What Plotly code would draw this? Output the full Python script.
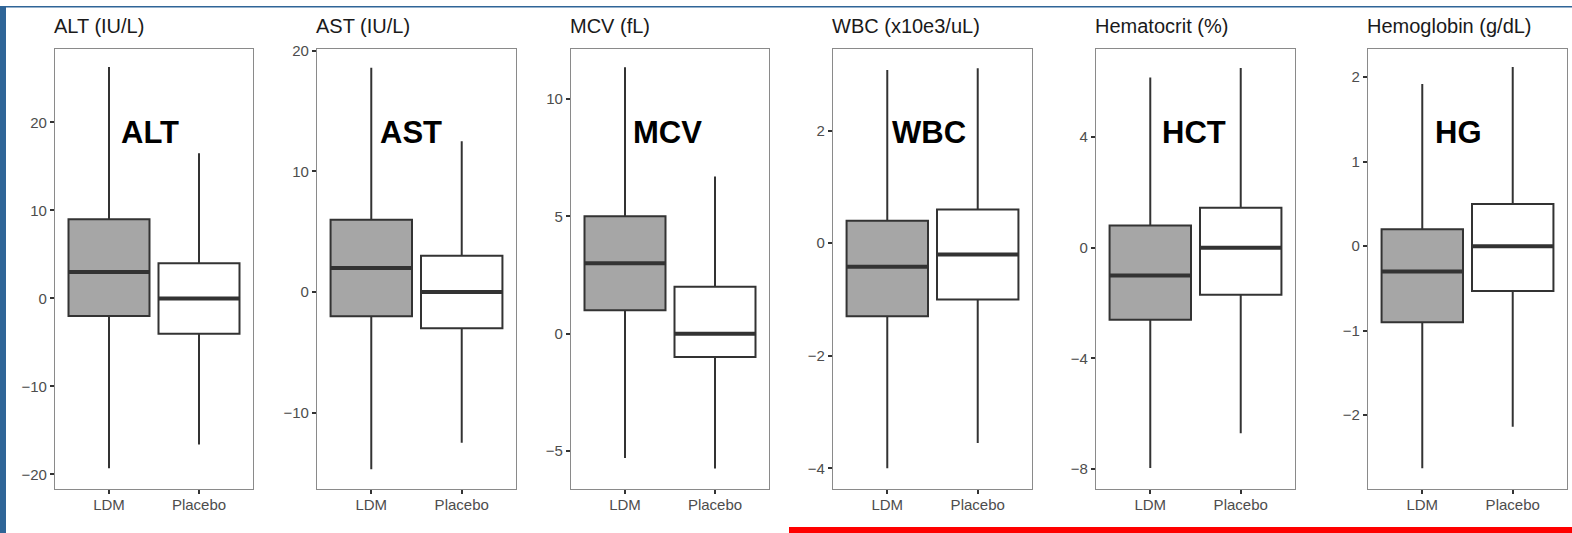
import plotly.graph_objects as go

groups = ["LDM", "Placebo"]
panels = ["ALT (IU/L)", "AST (IU/L)", "MCV (fL)", "WBC (x10e3/uL)", "Hematocrit (%)", "Hemoglobin (g/dL)"]
labels = ["ALT", "AST", "MCV", "WBC", "HCT", "HG"]

# per panel: [LDM, Placebo]
q1 = [[-2.0, -4.0], [-2.0, -3.0], [1.0, -1.0], [-1.3, -1.0], [-2.6, -1.7], [-0.9, -0.53]]
med = [[3.0, 0.0], [2.0, 0.0], [3.0, 0.0], [-0.42, -0.2], [-1.0, 0.0], [-0.3, 0.0]]
q3 = [[9.0, 4.0], [6.0, 3.0], [5.0, 2.0], [0.4, 0.6], [0.8, 1.45], [0.2, 0.5]]
lo = [[-19.3, -16.6], [-14.7, -12.5], [-5.3, -5.75], [-4.0, -3.55], [-7.96, -6.7], [-2.63, -2.14]]
hi = [[26.3, 16.5], [18.6, 12.5], [11.35, 6.7], [3.08, 3.11], [6.15, 6.5], [1.92, 2.12]]

yranges = [[-21.6, 28.4], [-16.3, 20.2], [-6.6, 12.15], [-4.36, 3.46], [-8.7, 7.2], [-2.87, 2.34]]
yticks = [[-20, -10, 0, 10, 20], [-10, 0, 10, 20], [-5, 0, 5, 10], [-4, -2, 0, 2], [-8, -4, 0, 4], [-2, -1, 0, 1, 2]]

W, H = 1572, 533
lefts = [55, 317, 571, 833, 1096, 1368]
rights = [253, 516, 769, 1032, 1295, 1567]
top_px, bot_px = 43, 488
label_cx = [150, 411, 667, 929, 1194, 1458]

fills = ["#a6a6a6", "#ffffff"]
font = "Liberation Sans, Arial, sans-serif"
bw = 0.9

fig = go.Figure()
layout = dict(
    width=W, height=H, margin=dict(l=0, r=0, t=0, b=0),
    paper_bgcolor="white", plot_bgcolor="white", showlegend=False,
    font=dict(family=font),
)
annotations = []
for i in range(6):
    xa = "x" if i == 0 else f"x{i+1}"
    ya = "y" if i == 0 else f"y{i+1}"
    for g in range(2):
        xpos = g + 1
        fig.add_trace(go.Box(
            x=[xpos], q1=[q1[i][g]], median=[med[i][g]], q3=[q3[i][g]],
            lowerfence=[lo[i][g]], upperfence=[hi[i][g]],
            width=bw, whiskerwidth=0, fillcolor=fills[g],
            line=dict(color="#333333", width=2), boxpoints=False,
            hoverinfo="skip", xaxis=xa, yaxis=ya,
        ))
        fig.add_trace(go.Scatter(
            x=[xpos - bw / 2, xpos + bw / 2], y=[med[i][g], med[i][g]],
            mode="lines", line=dict(color="#333333", width=4),
            hoverinfo="skip", xaxis=xa, yaxis=ya,
        ))
    key = "" if i == 0 else str(i + 1)
    layout["xaxis" + key] = dict(
        domain=[lefts[i] / W, rights[i] / W], anchor=ya,
        range=[0.4, 2.6], tickvals=[1, 2], ticktext=groups,
        showgrid=False, zeroline=False, showline=True, mirror=True,
        linecolor="#8a8a8a", linewidth=1.2,
        ticks="outside", ticklen=4, tickwidth=1.5, tickcolor="#333333",
        ticklabelstandoff=-2,
        tickfont=dict(size=15, color="#4d4d4d", family=font),
    )
    layout["yaxis" + key] = dict(
        domain=[1 - bot_px / H, 1 - top_px / H], anchor=xa,
        range=yranges[i], tickvals=yticks[i],
        ticktext=[str(v).replace("-", "\u2212") for v in yticks[i]],
        showgrid=False, zeroline=False, showline=True, mirror=True,
        linecolor="#8a8a8a", linewidth=1.2,
        ticks="outside", ticklen=4, tickwidth=1.5, tickcolor="#333333",
        tickfont=dict(size=15, color="#4d4d4d", family=font),
    )
    annotations.append(dict(
        text=panels[i], xref="paper", yref="paper",
        x=(lefts[i] - 3) / W, y=1 - 20 / H, xanchor="left", yanchor="middle",
        showarrow=False, font=dict(size=20, color="#1a1a1a", family=font),
    ))
    annotations.append(dict(
        text="<b>" + labels[i] + "</b>", xref="paper", yref="paper",
        x=label_cx[i] / W, y=1 - 128 / H, xanchor="center", yanchor="middle",
        showarrow=False, font=dict(size=31, color="#000000", family=font),
    ))

layout["annotations"] = annotations
layout["shapes"] = [
    dict(type="rect", xref="paper", yref="paper", x0=0, x1=6 / W, y0=0, y1=1,
         fillcolor="#2f6597", line=dict(width=0), layer="above"),
    dict(type="rect", xref="paper", yref="paper", x0=0, x1=1, y0=1 - 1.5 / H, y1=1,
         fillcolor="#2f6597", line=dict(width=0), layer="above"),
    dict(type="rect", xref="paper", yref="paper", x0=789 / W, x1=1, y0=0, y1=6 / H,
         fillcolor="#ff0000", line=dict(width=0), layer="above"),
]
fig.update_layout(**layout)
fig.write_html("out.html")
